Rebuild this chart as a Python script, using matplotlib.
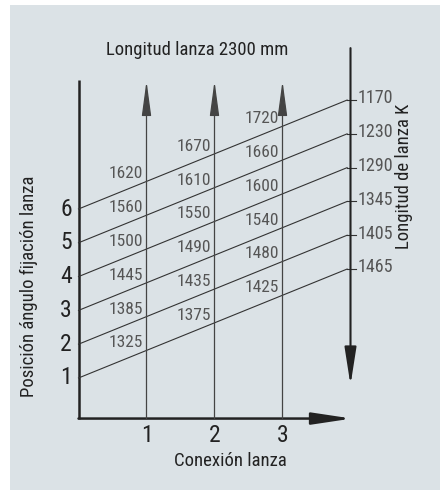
import matplotlib
matplotlib.use("Agg")
import matplotlib.pyplot as plt
from matplotlib.patches import Rectangle
from matplotlib import font_manager as fm

# Nomogram values
positions = [1, 2, 3, 4, 5, 6]
connections = [1, 2, 3]
conn_labels = ["1", "2", "3"]
len_conn1 = [1325, 1385, 1445, 1500, 1560, 1620]
len_conn2 = [1375, 1435, 1490, 1550, 1610, 1670]
len_conn3 = [1425, 1480, 1540, 1600, 1660, 1720]
k_lengths = [1465, 1405, 1345, 1290, 1230, 1170]

title = "Longitud lanza 2300 mm"
ylabel = "Posición ángulo fijación lanza"
xlabel = "Conexión lanza"
rlabel = "Longitud de lanza K"


def pick_narrow_font():
    """Return the file of a regular-weight narrow sans font, if one exists."""
    best = None
    for f in fm.fontManager.ttflist:
        nm = f.name + " " + f.fname
        narrow = ("Narrow" in nm or "Condensed" in nm
                  or f.stretch in ("condensed", "semi-condensed"))
        if not narrow or f.style != "normal":
            continue
        if f.weight not in (400, "normal", "regular", "book"):
            continue
        if "Mono" in nm or "Serif" in nm or "Semi" in nm or "Extra" in nm:
            continue
        rank = 0 if "Liberation" in nm else 1 if "Roboto" in nm else 2
        if best is None or rank < best[0]:
            best = (rank, f.fname)
    return best[1] if best else None


narrow_file = pick_narrow_font()
if narrow_file:
    FONTKW = dict(fontproperties=fm.FontProperties(fname=narrow_file))
    SCALE = 1.0
else:
    FONTKW = dict(family=["Liberation Sans", "DejaVu Sans"])
    SCALE = 0.84

# Geometry of the nomogram
SLOPE = 0.816          # rise of a position line per connection unit
X_END = 3.95           # where the position lines meet the K scale
K_AXIS = 4.0
DARK = "#222222"
GRAY = "#555555"
BG = "#dbe2e6"

W, H = 440, 491
fig = plt.figure(figsize=(W / 100, H / 100), dpi=100)
fig.patch.set_facecolor("white")
fig.add_artist(Rectangle((10 / W, 1 / H), (W - 10) / W, (H - 6) / H,
                         transform=fig.transFigure, facecolor=BG,
                         edgecolor="none", zorder=-1))

ax = fig.add_axes([0, 0, 1, 1])
ax.axis("off")
x0_px, dx_px = 78.5, 68.0
y0_px, dy_px = 411.8, 33.8
ax.set_xlim(-x0_px / dx_px, (W - x0_px) / dx_px)
ax.set_ylim((y0_px - H) / dy_px, y0_px / dy_px)


def txt(x, y, s, size, color, **kw):
    t = ax.text(x, y, s, color=color, **FONTKW, **kw)
    t.set_fontsize(size * SCALE)
    return t


def arrow(start, tip, hl, hw, lw, color):
    ax.annotate("", xy=tip, xytext=start, annotation_clip=False,
                arrowprops=dict(arrowstyle=f"-|>,head_length={hl},head_width={hw}",
                                mutation_scale=1, shrinkA=0, shrinkB=0,
                                lw=lw, color=color))


y_base = -0.2
# left axis
ax.plot([0, 0], [y_base, 9.82], color=DARK, lw=1.8, solid_capstyle="butt")
# bottom axis with arrow
arrow((0, y_base), (4.02, y_base), 24, 3.6, 1.8, DARK)
# connection arrows
for c in connections:
    arrow((c, y_base), (c, 9.79), 21.5, 2.9, 0.9, "#444444")
# K scale arrow pointing down
arrow((K_AXIS, 10.76), (K_AXIS, 0.79), 23, 3.6, 1.5, DARK)

# position lines
for p, k in zip(positions, k_lengths):
    y_end = p + SLOPE * X_END
    ax.plot([0, X_END], [p, y_end], color="#333333", lw=0.8)
    ax.plot([X_END, K_AXIS + 0.08], [y_end, y_end], color="#333333", lw=0.8)
    txt(K_AXIS + 0.1, y_end + 0.05, str(k), 13, GRAY, ha="left", va="center")
    txt(-0.1, p, str(p), 17, DARK, ha="right", va="center")

# lengths along each connection
for c, vals in zip(connections, [len_conn1, len_conn2, len_conn3]):
    xl = c - 0.3
    for p, v in zip(positions, vals):
        txt(xl, p + SLOPE * xl + 0.47, str(v), 12.5, GRAY,
            ha="center", va="center")

for c, lab in zip(connections, conn_labels):
    txt(c, (y0_px - 436) / dy_px, lab, 17, DARK, ha="center", va="center")

txt((197.5 - x0_px) / dx_px, (y0_px - 50) / dy_px, title, 13.5, DARK,
    ha="center", va="center")
txt((230 - x0_px) / dx_px, (y0_px - 461) / dy_px, xlabel, 13.5, DARK,
    ha="center", va="center")
txt((29 - x0_px) / dx_px, (y0_px - 286) / dy_px, ylabel, 13.5, DARK,
    ha="center", va="center", rotation=90)
txt((404 - x0_px) / dx_px, (y0_px - 176) / dy_px, rlabel, 13.5, DARK,
    ha="center", va="center", rotation=90)

fig.savefig("out.png", dpi=100, facecolor=fig.get_facecolor())
